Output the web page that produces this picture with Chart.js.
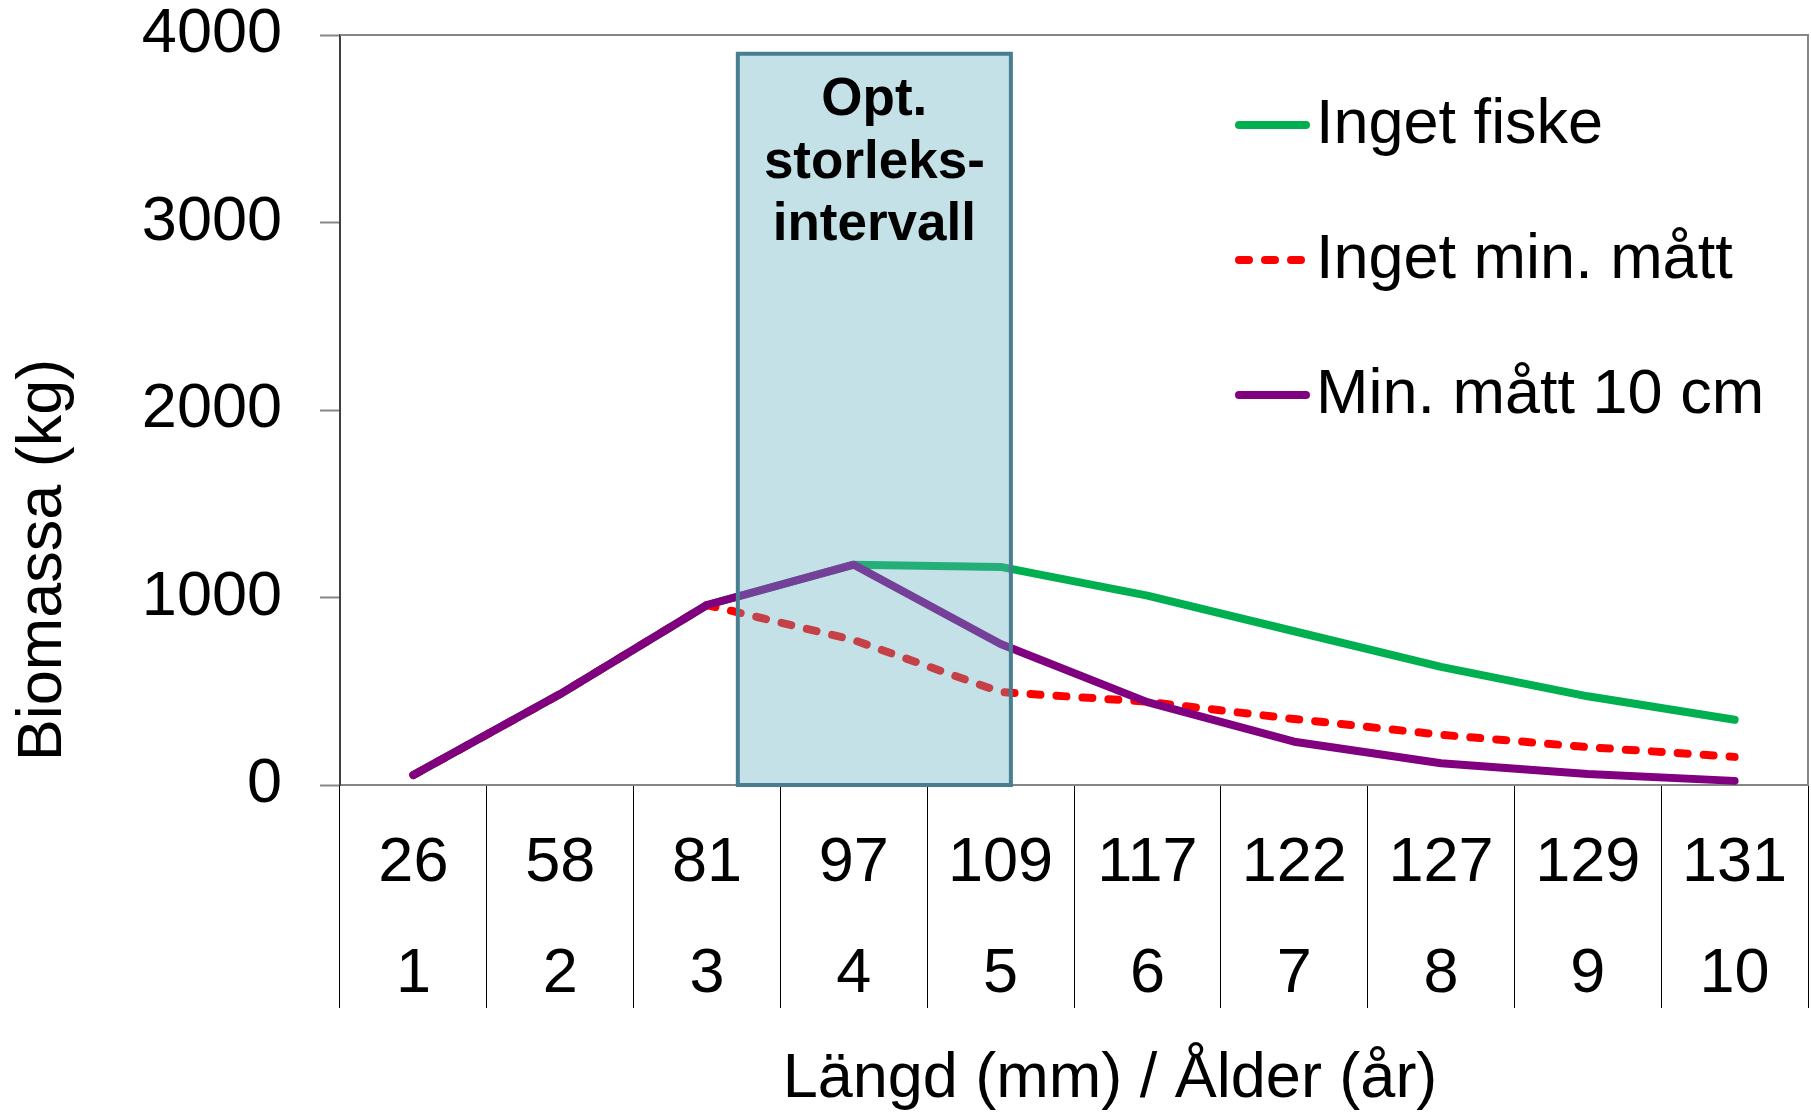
<!DOCTYPE html>
<html>
<head>
<meta charset="utf-8">
<script src="https://cdn.jsdelivr.net/npm/chart.js@4.4.1/dist/chart.umd.min.js"></script>
<style>
  html, body { margin: 0; padding: 0; background: #fff; }
  #chart { display: block; }
</style>
</head>
<body>
<canvas id="chart" width="1811" height="1112"></canvas>
<script>
const lengths = ['26', '58', '81', '97', '109', '117', '122', '127', '129', '131']
const ages = ['1', '2', '3', '4', '5', '6', '7', '8', '9', '10']
const ingetFiske = [53, 485, 960, 1175, 1163, 1010, 820, 630, 473, 348]
const ingetMinMatt = [53, 485, 960, 773, 496, 444, 352, 268, 202, 150]
const minMatt10 = [53, 485, 960, 1175, 752, 442, 231, 116, 59, 22]
const yTicks = [0, 1000, 2000, 3000, 4000]
const optLines = ['Opt.', 'storleks-', 'intervall']
// optimalt storleksintervall (kategori-index och kg)
const optFrom = 2.21
const optTo = 4.07
const optTop = 3900

const FONT = "'Liberation Sans', Arial, sans-serif"

const overlay = {
  id: 'overlay',
  beforeDatasetsDraw(chart) {
    const { ctx, chartArea: a } = chart
    ctx.save()
    ctx.strokeStyle = '#868686'
    ctx.lineWidth = 2
    ctx.beginPath()
    ctx.moveTo(a.left, a.top)
    ctx.lineTo(a.right, a.top)
    ctx.lineTo(a.right, a.bottom)
    ctx.stroke()
    ctx.restore()
  },
  afterDatasetsDraw(chart) {
    const { ctx } = chart
    const x = chart.scales.x
    const y = chart.scales.y
    const x0 = x.getPixelForValue(optFrom)
    const x1 = x.getPixelForValue(optTo)
    const y0 = y.getPixelForValue(optTop)
    const y1 = y.getPixelForValue(0)
    ctx.save()
    ctx.fillStyle = 'rgba(98, 174, 193, 0.37)'
    ctx.fillRect(x0, y0, x1 - x0, y1 - y0)
    ctx.strokeStyle = '#477f90'
    ctx.lineWidth = 4
    ctx.strokeRect(x0, y0, x1 - x0, y1 - y0)
    ctx.fillStyle = '#000'
    ctx.font = 'bold 53px ' + FONT
    ctx.textAlign = 'center'
    ctx.textBaseline = 'middle'
    optLines.forEach((t, i) => {
      ctx.fillText(t, (x0 + x1) / 2, y0 + 47 + i * 62.5)
    })
    ctx.restore()
  },
  afterDraw(chart) {
    const { ctx } = chart
    ctx.save()
    ctx.fillStyle = '#000'
    ctx.font = '63px ' + FONT
    ctx.textBaseline = 'middle'

    // axeltitlar
    ctx.textAlign = 'center'
    ctx.fillText('Längd (mm) / Ålder (år)', 1110, 1080)
    ctx.translate(44, 560)
    ctx.rotate(-Math.PI / 2)
    ctx.fillText('Biomassa (kg)', 0, 0)
    ctx.setTransform(1, 0, 0, 1, 0, 0)

    // legend
    ctx.textAlign = 'left'
    chart.data.datasets.forEach((ds, i) => {
      const ly = 125 + i * 135
      ctx.strokeStyle = ds.borderColor
      ctx.lineWidth = 8
      ctx.lineCap = 'round'
      ctx.setLineDash(ds.borderDash || [])
      ctx.beginPath()
      ctx.moveTo(1239, ly)
      ctx.lineTo(1306, ly)
      ctx.stroke()
      ctx.setLineDash([])
      ctx.fillText(ds.label, 1316, ly + 1)
    })
    ctx.restore()
  },
}

const lineStyle = {
  borderWidth: 8,
  tension: 0,
  borderCapStyle: 'round',
  borderJoinStyle: 'round',
  fill: false,
  pointRadius: 0,
}

new Chart(document.getElementById('chart'), {
  type: 'line',
  data: {
    labels: lengths.map((l, i) => [l, ages[i]]),
    datasets: [
      {
        ...lineStyle,
        label: 'Inget fiske',
        data: ingetFiske,
        borderColor: '#00b050',
        order: 3,
      },
      {
        ...lineStyle,
        label: 'Inget min. mått',
        data: ingetMinMatt,
        borderColor: '#ff0000',
        borderDash: [10, 16],
        order: 2,
      },
      {
        ...lineStyle,
        label: 'Min. mått 10 cm',
        data: minMatt10,
        borderColor: '#800080',
        order: 1,
      },
    ],
  },
  options: {
    responsive: false,
    animation: false,
    devicePixelRatio: 1,
    layout: { padding: { left: 7, top: 35, right: 3, bottom: 1 } },
    plugins: {
      legend: { display: false },
      tooltip: { enabled: false },
    },
    scales: {
      x: {
        offset: true,
        grid: {
          offset: true,
          drawOnChartArea: false,
          drawTicks: true,
          tickLength: 223,
          tickColor: '#000',
          tickWidth: 1,
        },
        border: { color: '#868686', width: 2 },
        ticks: {
          autoSkip: false,
          maxRotation: 0,
          padding: -200,
          color: '#000',
          font: { family: FONT, size: 63, lineHeight: 1.76 },
        },
        afterFit: (scale) => {
          scale.height = 326
          scale.paddingLeft = 0
          scale.paddingRight = 0
        },
      },
      y: {
        min: 0,
        max: 4000,
        grid: {
          drawOnChartArea: false,
          tickLength: 20,
          tickColor: '#868686',
          tickWidth: 2,
        },
        border: { color: '#404040', width: 2 },
        ticks: {
          padding: 38,
          color: '#000',
          font: { family: FONT, size: 63, lineHeight: 1 },
          callback: (v) => String(v),
        },
        afterBuildTicks: (scale) => { scale.ticks = yTicks.map((v) => ({ value: v })) },
        afterFit: (scale) => {
          scale.width = 333
          scale.paddingTop = 0
          scale.paddingBottom = 0
        },
      },
    },
  },
  plugins: [overlay],
})
</script>
</body>
</html>
